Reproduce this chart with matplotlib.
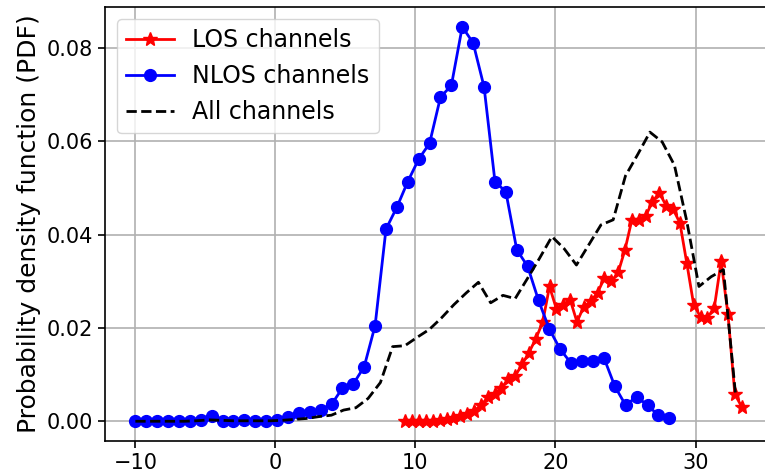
import numpy as np
import matplotlib
matplotlib.use('Agg')
import matplotlib.pyplot as plt

# 데이터
nlos_x = np.linspace(-10.0, 28.13, 50)
nlos_pdf = [0.0000, 0.0000, 0.0000, 0.0000, 0.0000, 0.0000, 0.0002, 0.0011, 0.0000, 0.0000,
            0.0002, 0.0000, 0.0000, 0.0002, 0.0009, 0.0017, 0.0019, 0.0025, 0.0036, 0.0071,
            0.0080, 0.0117, 0.0205, 0.0412, 0.0459, 0.0514, 0.0562, 0.0596, 0.0695, 0.0720,
            0.0846, 0.0811, 0.0717, 0.0514, 0.0492, 0.0368, 0.0332, 0.0259, 0.0197, 0.0154,
            0.0124, 0.0130, 0.0130, 0.0136, 0.0075, 0.0034, 0.0053, 0.0034, 0.0013, 0.0006]

los_x = np.linspace(9.28, 33.3, 50)
los_pdf = [0.0000, 0.0000, 0.0000, 0.0000, 0.0001, 0.0002, 0.0004, 0.0008, 0.0011, 0.0015,
           0.0022, 0.0034, 0.0051, 0.0058, 0.0072, 0.0090, 0.0097, 0.0122, 0.0147, 0.0177,
           0.0212, 0.0289, 0.0241, 0.0250, 0.0261, 0.0213, 0.0246, 0.0257, 0.0276, 0.0307,
           0.0300, 0.0319, 0.0368, 0.0432, 0.0432, 0.0440, 0.0471, 0.0490, 0.0462, 0.0455,
           0.0425, 0.0339, 0.0250, 0.0224, 0.0222, 0.0243, 0.0343, 0.0229, 0.0058, 0.0031]

all_x = np.linspace(-10.0, 32.87, 50)
all_pdf = [0.0000, 0.0000, 0.0000, 0.0000, 0.0000, 0.0001, 0.0003, 0.0002, 0.0001, 0.0001,
           0.0001, 0.0001, 0.0002, 0.0004, 0.0006, 0.0010, 0.0013, 0.0024, 0.0029, 0.0049,
           0.0083, 0.0160, 0.0162, 0.0180, 0.0197, 0.0222, 0.0250, 0.0275, 0.0298, 0.0254,
           0.0270, 0.0263, 0.0306, 0.0350, 0.0396, 0.0370, 0.0335, 0.0378, 0.0421, 0.0432,
           0.0526, 0.0572, 0.0620, 0.0599, 0.0549, 0.0430, 0.0289, 0.0310, 0.0325, 0.0054]

fig = plt.figure(figsize=(7.65, 4.73), dpi=100)
ax = fig.add_axes([0.1373, 0.0677, 0.8719, 0.9175])

ax.plot(los_x, los_pdf, color='red', marker='*', markersize=10, linewidth=2, label='LOS channels')
ax.plot(nlos_x, nlos_pdf, color='blue', marker='o', markersize=8.5, linewidth=2, label='NLOS channels')
ax.plot(all_x, all_pdf, color='black', linestyle='--', linewidth=2, label='All channels')

ax.grid(True, color='#b0b0b0', linewidth=1.2)
ax.set_axisbelow(True)
ax.set_yticks([0.0, 0.02, 0.04, 0.06, 0.08])
ax.set_xticks([-10, 0, 10, 20, 30])
ax.tick_params(labelsize=15, width=1.2, length=5)
for s in ax.spines.values():
    s.set_linewidth(1.2)
ax.set_ylabel('Probability density function (PDF)', fontsize=18, labelpad=4)
ax.legend(loc='upper left', fontsize=17, handlelength=2.0)

plt.savefig('out.png', dpi=100)
